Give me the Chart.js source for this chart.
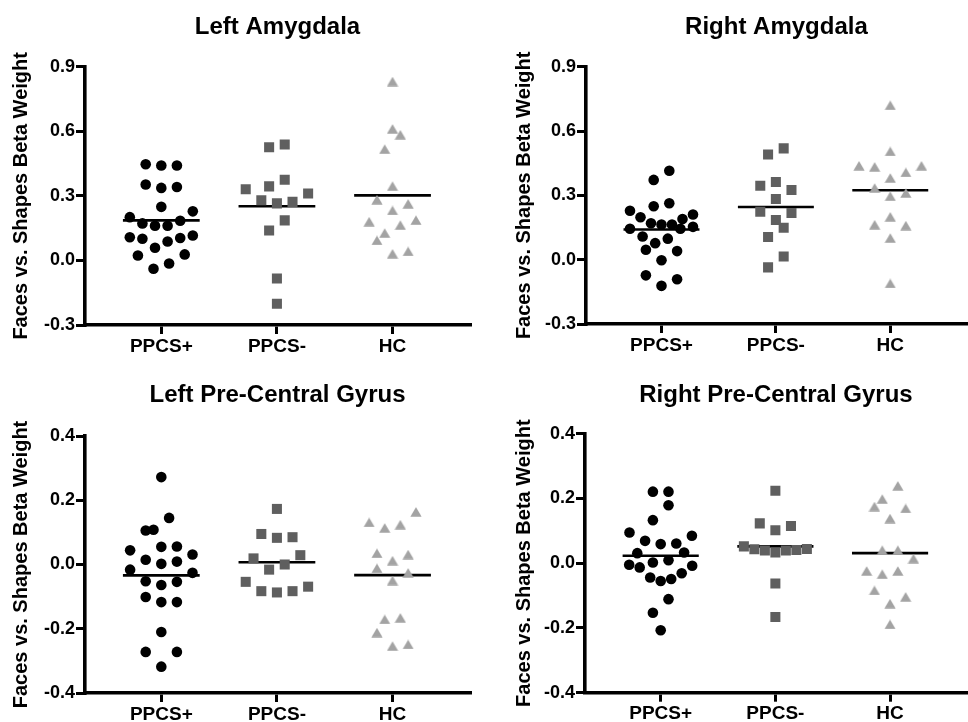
<!DOCTYPE html>
<html>
<head>
<meta charset="utf-8">
<script src="https://cdn.jsdelivr.net/npm/chart.js@4.4.1/dist/chart.umd.min.js"></script>
<style>
html,body{margin:0;padding:0;background:#fff;overflow:hidden;width:968px;height:722px;}
canvas{position:absolute;display:block;}
</style>
</head>
<body>
<canvas id="c1" width="484" height="361" style="left:0;top:0"></canvas>
<canvas id="c2" width="490" height="361" style="left:484px;top:0"></canvas>
<canvas id="c3" width="484" height="361" style="left:0;top:361px"></canvas>
<canvas id="c4" width="490" height="361" style="left:484px;top:361px"></canvas>
<script>
// ---------- data ----------
const groups = ['PPCS+', 'PPCS-', 'HC'];
const yTitle = 'Faces vs. Shapes Beta Weight';

const amyTicks = [-0.3, 0.0, 0.3, 0.6, 0.9];
const pcgTicks = [-0.4, -0.2, 0.0, 0.2, 0.4];

// Left Amygdala
const leftAmyPPCSpos = [0.441, 0.441, 0.447, 0.353, 0.337, 0.341, 0.249, 0.201, 0.228, 0.172, 0.161, 0.161, 0.184, 0.116, 0.104, 0.088, 0.101, 0.108, 0.059, 0.023, 0.028, -0.039, -0.014];
const leftAmyPPCSneg = [0.539, 0.526, 0.375, 0.344, 0.311, 0.331, 0.272, 0.265, 0.280, 0.186, 0.139, -0.084, -0.201];
const leftAmyHC = [0.831, 0.611, 0.584, 0.517, 0.345, 0.282, 0.263, 0.232, 0.187, 0.164, 0.180, 0.127, 0.093, 0.031, 0.042];
const leftAmyMeans = [0.186, 0.252, 0.302];

// Right Amygdala
const rightAmyPPCSpos = [0.415, 0.372, 0.249, 0.263, 0.211, 0.228, 0.190, 0.198, 0.164, 0.164, 0.170, 0.144, 0.144, 0.153, 0.108, 0.077, 0.098, 0.040, 0.046, -0.003, -0.073, -0.091, -0.122];
const rightAmyPPCSneg = [0.519, 0.491, 0.362, 0.325, 0.345, 0.283, 0.224, 0.218, 0.185, 0.149, 0.106, 0.015, -0.036];
const rightAmyHC = [0.720, 0.505, 0.438, 0.433, 0.438, 0.381, 0.407, 0.311, 0.334, 0.296, 0.200, 0.159, 0.163, 0.101, -0.111];
const rightAmyMeans = [0.141, 0.246, 0.324];

// Left Pre-Central Gyrus
const leftPcgPPCSpos = [0.272, 0.145, 0.106, 0.108, 0.055, 0.031, 0.056, 0.044, 0.009, 0.015, 0.002, -0.016, -0.026, -0.054, -0.064, -0.052, -0.101, -0.117, -0.117, -0.210, -0.272, -0.272, -0.318];
const leftPcgPPCSneg = [0.173, 0.095, 0.083, 0.085, 0.029, 0.019, 0.000, -0.016, -0.054, -0.083, -0.087, -0.083, -0.069];
const leftPcgHC = [0.164, 0.131, 0.114, 0.124, 0.031, 0.012, 0.035, -0.012, -0.026, -0.050, -0.166, -0.171, -0.212, -0.254, -0.249];
const leftPcgMeans = [-0.034, 0.007, -0.033];

// Right Pre-Central Gyrus
const rightPcgPPCSpos = [0.221, 0.221, 0.179, 0.133, 0.095, 0.085, 0.069, 0.059, 0.061, 0.031, 0.033, 0.002, -0.005, 0.009, -0.013, -0.008, -0.044, -0.055, -0.049, -0.031, -0.111, -0.153, -0.207];
const rightPcgPPCSneg = [0.224, 0.115, 0.102, 0.123, 0.052, 0.043, 0.039, 0.033, 0.039, 0.041, 0.044, -0.063, -0.166];
const rightPcgHC = [0.239, 0.198, 0.175, 0.169, 0.138, 0.040, 0.040, 0.014, -0.024, -0.034, -0.024, -0.084, -0.104, -0.125, -0.189];
const rightPcgMeans = [0.023, 0.052, 0.031];

// ---------- styling ----------
Chart.defaults.font.family = '"Liberation Sans", Arial, Helvetica, sans-serif';
Chart.defaults.color = '#000';
const FONT = '"Liberation Sans", Arial, Helvetica, sans-serif';

const COL_CIRCLE = '#000000';
const COL_SQUARE = '#5f5f5f';
const COL_TRI = '#a3a3a3';

// triangle symbol drawn centred on its bounding box
const triImg = (function () {
  const c = document.createElement('canvas');
  c.width = 12; c.height = 10;
  const g = c.getContext('2d');
  g.fillStyle = COL_TRI;
  g.beginPath();
  g.moveTo(6, 0.3);
  g.lineTo(11.6, 9.8);
  g.lineTo(0.4, 9.8);
  g.closePath();
  g.fill();
  return c;
})();

const BIN_PX = 16.7, MAX_STEP = 15.6, ROW_W = 63;

// Prism-like scatter layout: values binned in rows, spread symmetrically
function swarm(values, cat, chart) {
  const ys = chart.scales.y, xs = chart.scales.x;
  const pxPerUnit = xs.getPixelForValue(1) - xs.getPixelForValue(0);
  const items = values.map(v => ({ v, py: ys.getPixelForValue(v) })).sort((a, b) => a.v - b.v);
  const rows = [];
  let cur = null;
  for (const it of items) {
    if (!cur || cur.start - it.py >= BIN_PX) { cur = { start: it.py, items: [] }; rows.push(cur); }
    cur.items.push(it);
  }
  const pts = [];
  for (const r of rows) {
    const n = r.items.length;
    const step = n > 1 ? Math.min(MAX_STEP, ROW_W / (n - 1)) : 0;
    r.items.forEach((it, k) => {
      let slot;
      if (n % 2) slot = k === 0 ? 0 : (k % 2 ? 1 : -1) * Math.ceil(k / 2);
      else slot = (k % 2 ? 1 : -1) * (Math.floor(k / 2) + 0.5);
      pts.push({ x: cat + slot * step / pxPerUnit, y: it.v });
    });
  }
  return pts;
}

function makePanel(id, p) {
  const groupsData = [p.pos, p.neg, p.hc];
  const styles = [
    { pointStyle: 'circle', pointRadius: 5.3, backgroundColor: COL_CIRCLE },
    { pointStyle: 'rect', pointRadius: 7.1, backgroundColor: COL_SQUARE },
    { pointStyle: triImg, pointRadius: 6, backgroundColor: COL_TRI }
  ];
  const datasets = [];
  groupsData.forEach((vals, i) => {
    datasets.push(Object.assign({
      label: groups[i],
      data: vals.map(v => ({ x: i, y: v })),
      borderWidth: 0,
      pointBorderWidth: 0,
      showLine: false,
      order: 0
    }, styles[i]));
  });
  p.means.forEach((m, i) => {
    datasets.push({
      label: groups[i] + ' mean',
      data: [{ x: i - 0.332, y: m }, { x: i + 0.332, y: m }],
      showLine: true,
      borderColor: '#000',
      borderWidth: 2.6,
      pointRadius: 0,
      order: 5
    });
  });

  const chart = new Chart(document.getElementById(id), {
    type: 'scatter',
    data: { datasets },
    options: {
      responsive: false,
      animation: false,
      events: [],
      layout: { padding: { left: 0, right: p.padRight, top: 0, bottom: 0 } },
      plugins: {
        legend: { display: false },
        tooltip: { enabled: false },
        title: {
          display: true,
          text: p.title,
          fullSize: false,
          color: '#000',
          font: { family: FONT, size: 24, weight: 'bold' },
          padding: { top: p.titleTop, bottom: p.titleBottom }
        }
      },
      scales: {
        x: {
          type: 'linear',
          min: -0.66,
          max: 2.67,
          afterBuildTicks: s => { s.ticks = groups.map((g, i) => ({ value: i })); },
          afterFit: s => { s.height = p.xH; },
          ticks: {
            callback: v => groups[v],
            color: '#000',
            font: { family: FONT, size: 19, weight: 'bold' },
            padding: 1,
            maxRotation: 0,
            autoSkip: false
          },
          grid: { drawOnChartArea: false, drawTicks: true, tickLength: 9, color: '#000', lineWidth: 3 },
          border: { display: true, color: '#000', width: 3.6 }
        },
        y: {
          type: 'linear',
          min: p.ticks[0],
          max: p.ticks[p.ticks.length - 1],
          afterBuildTicks: s => { s.ticks = p.ticks.map(v => ({ value: v })); },
          afterFit: s => { s.width = p.yW; },
          ticks: {
            callback: v => v.toFixed(1),
            color: '#000',
            font: { family: FONT, size: 18, weight: 'bold' },
            padding: 1
          },
          grid: { drawOnChartArea: false, drawTicks: true, tickLength: 9, color: '#000', lineWidth: 3 },
          border: { display: true, color: '#000', width: 3.6 },
          title: {
            display: true,
            text: yTitle,
            color: '#000',
            font: { family: FONT, size: 20, weight: 'bold' },
            padding: { top: p.yTitlePad, bottom: 0 }
          }
        }
      }
    }
  });
  groupsData.forEach((vals, i) => { chart.data.datasets[i].data = swarm(vals, i, chart); });
  chart.update('none');
  return chart;
}

makePanel('c1', {
  title: 'Left Amygdala', pos: leftAmyPPCSpos, neg: leftAmyPPCSneg, hc: leftAmyHC, means: leftAmyMeans,
  ticks: amyTicks, padRight: 14, yW: 85, xH: 36, titleTop: 12.6, titleBottom: 25.3, yTitlePad: 9
});
makePanel('c2', {
  title: 'Right Amygdala', pos: rightAmyPPCSpos, neg: rightAmyPPCSneg, hc: rightAmyHC, means: rightAmyMeans,
  ticks: amyTicks, padRight: 0, yW: 102, xH: 37, titleTop: 12.6, titleBottom: 25.3, yTitlePad: 28
});
makePanel('c3', {
  title: 'Left Pre-Central Gyrus', pos: leftPcgPPCSpos, neg: leftPcgPPCSneg, hc: leftPcgHC, means: leftPcgMeans,
  ticks: pcgTicks, padRight: 14, yW: 85, xH: 29, titleTop: 20.4, titleBottom: 25.8, yTitlePad: 9
});
makePanel('c4', {
  title: 'Right Pre-Central Gyrus', pos: rightPcgPPCSpos, neg: rightPcgPPCSneg, hc: rightPcgHC, means: rightPcgMeans,
  ticks: pcgTicks, padRight: 0, yW: 101, xH: 29.3, titleTop: 19.6, titleBottom: 24.3, yTitlePad: 28
});
</script>
</body>
</html>
